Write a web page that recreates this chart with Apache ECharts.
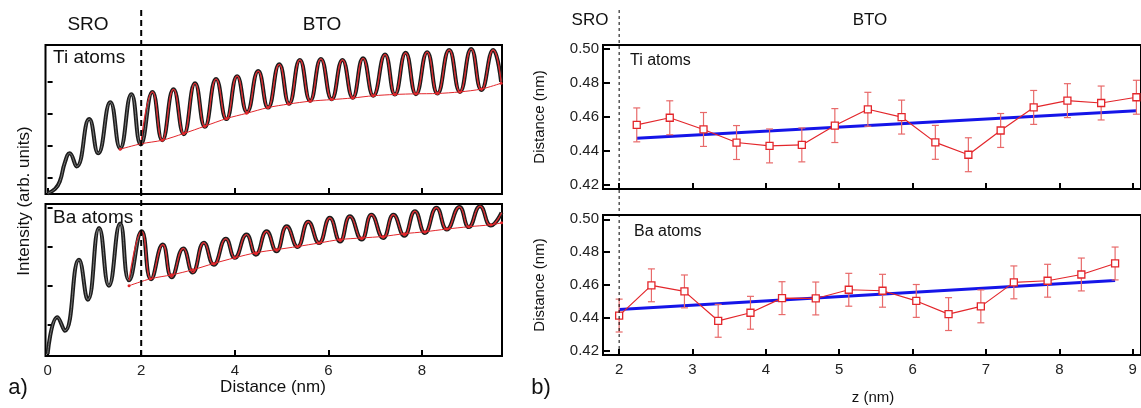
<!DOCTYPE html>
<html><head><meta charset="utf-8">
<script src="https://cdn.jsdelivr.net/npm/echarts@6/dist/echarts.min.js"></script>
<style>html,body{margin:0;padding:0;background:#fff}#c{width:1141px;height:408px}</style>
</head><body><div id="c"></div>
<script>
// ---------- panel a) : intensity profiles (x in nm, y in arb. units) ----------
const tiProfile = [[0.00,0.02],[0.16,0.16],[0.26,0.39],[0.37,0.99],[0.47,1.27],[0.62,0.86],[0.89,2.34],[1.08,1.27],[1.34,2.87],[1.55,1.43],[1.79,3.12],[1.99,1.55],[2.24,3.19],[2.45,1.68],[2.69,3.27],[2.91,1.87],[3.15,3.46],[3.36,2.10],[3.60,3.59],[3.82,2.34],[4.05,3.68],[4.26,2.56],[4.50,3.84],[4.71,2.70],[4.95,4.05],[5.16,2.82],[5.39,4.19],[5.61,2.91],[5.84,4.22],[6.07,2.96],[6.30,4.19],[6.52,3.01],[6.74,4.24],[6.96,3.07],[7.21,4.36],[7.42,3.11],[7.65,4.41],[7.87,3.12],[8.11,4.43],[8.33,3.14],[8.58,4.50],[8.81,3.19],[9.05,4.53],[9.27,3.25],[9.52,4.50],[9.69,3.51]];
const tiFit = [[1.99,1.55],[2.24,3.19],[2.45,1.68],[2.69,3.27],[2.91,1.87],[3.15,3.46],[3.36,2.10],[3.60,3.59],[3.82,2.34],[4.05,3.68],[4.26,2.56],[4.50,3.84],[4.71,2.70],[4.95,4.05],[5.16,2.82],[5.39,4.19],[5.61,2.91],[5.84,4.22],[6.07,2.96],[6.30,4.19],[6.52,3.01],[6.74,4.24],[6.96,3.07],[7.21,4.36],[7.42,3.11],[7.65,4.41],[7.87,3.12],[8.11,4.43],[8.33,3.14],[8.58,4.50],[8.81,3.19],[9.05,4.53],[9.27,3.25],[9.52,4.50],[9.69,3.51]];
const tiEnvelope = [[1.55,1.40],[2.00,1.57],[2.45,1.68],[2.91,1.89],[3.36,2.12],[3.83,2.36],[4.25,2.52],[4.71,2.70],[5.15,2.81],[5.61,2.90],[6.07,2.95],[6.52,3.00],[6.96,3.07],[7.42,3.11],[7.87,3.13],[8.33,3.14],[8.81,3.19],[9.27,3.28],[9.69,3.46]];

const baProfile = [[0.00,0.05],[0.21,1.00],[0.37,0.65],[0.67,2.48],[0.86,1.45],[1.10,3.30],[1.31,1.81],[1.55,3.41],[1.74,1.95],[2.01,3.21],[2.21,1.98],[2.46,2.87],[2.65,2.03],[2.90,2.77],[3.10,2.15],[3.34,2.92],[3.55,2.35],[3.81,3.02],[4.00,2.53],[4.25,3.13],[4.45,2.61],[4.68,3.21],[4.89,2.70],[5.11,3.34],[5.34,2.81],[5.57,3.46],[5.80,2.91],[6.03,3.56],[6.25,2.95],[6.46,3.60],[6.71,3.00],[6.92,3.64],[7.17,3.04],[7.39,3.64],[7.62,3.10],[7.85,3.73],[8.06,3.17],[8.31,3.82],[8.53,3.26],[8.80,3.84],[9.00,3.32],[9.24,3.86],[9.47,3.36],[9.70,3.69]];
const baFit = [[1.74,1.95],[2.01,3.21],[2.21,1.98],[2.46,2.87],[2.65,2.03],[2.90,2.77],[3.10,2.15],[3.34,2.92],[3.55,2.35],[3.81,3.02],[4.00,2.53],[4.25,3.13],[4.45,2.61],[4.68,3.21],[4.89,2.70],[5.11,3.34],[5.34,2.81],[5.57,3.46],[5.80,2.91],[6.03,3.56],[6.25,2.95],[6.46,3.60],[6.71,3.00],[6.92,3.64],[7.17,3.04],[7.39,3.64],[7.62,3.10],[7.85,3.73],[8.06,3.17],[8.31,3.82],[8.53,3.26],[8.80,3.84],[9.00,3.32],[9.24,3.86],[9.47,3.36],[9.70,3.69]];
const baEnvelope = [[1.74,1.81],[2.20,1.99],[2.65,2.09],[3.10,2.22],[3.54,2.38],[4.00,2.53],[4.45,2.66],[4.89,2.74],[5.34,2.82],[5.80,2.91],[6.25,3.00],[6.71,3.04],[7.17,3.08],[7.62,3.15],[8.06,3.20],[8.53,3.27],[9.00,3.33],[9.47,3.38],[9.70,3.43]];

const interfaceZ = 2;               // SRO / BTO interface (nm)
const distTicksA = [0, 2, 4, 6, 8];
const tiTicksA = [0.5, 1.5, 2.5, 3.5];
const baTicksA = [0.81, 1.81, 2.81, 3.81];

// ---------- panel b) : inter-plane distances ----------
const tiZ    = [2.24,2.69,3.15,3.60,4.05,4.49,4.94,5.39,5.85,6.31,6.76,7.20,7.65,8.11,8.57,9.05];
const tiDist = [0.4554,0.4596,0.4527,0.4450,0.4430,0.4436,0.4550,0.4646,0.4600,0.4451,0.4378,0.4521,0.4657,0.4697,0.4683,0.4717];
const tiErr  = [0.010,0.010,0.010,0.010,0.010,0.010,0.010,0.010,0.010,0.010,0.010,0.010,0.010,0.010,0.010,0.010];
const tiTrend = [[2.24,0.4475],[9.05,0.4637]];

const baZ    = [2.00,2.44,2.89,3.35,3.79,4.22,4.68,5.13,5.59,6.05,6.49,6.93,7.38,7.84,8.30,8.76];
const baDist = [0.4414,0.4598,0.4561,0.4382,0.4431,0.4520,0.4518,0.4571,0.4565,0.4503,0.4423,0.4470,0.4616,0.4626,0.4664,0.4731];
const baErr  = [0.010,0.010,0.010,0.010,0.010,0.010,0.010,0.010,0.010,0.010,0.010,0.010,0.010,0.010,0.010,0.010];
const baTrend = [[2.00,0.4451],[8.76,0.4627]];

const zTicksB = [2, 3, 4, 5, 6, 7, 8, 9];
const distTicksB = [0.42, 0.44, 0.46, 0.48, 0.50];

// ---------- chart ----------
const FONT = 'Liberation Sans, Arial, sans-serif';
const RED = '#e3262b', ERR = '#e86a6a', BLUE = '#1515e8';
const chart = echarts.init(document.getElementById('c'), null, {renderer: 'canvas'});

function xAx(grid, min, max, ticks, labels) {
  return { type: 'value', gridIndex: grid, min: min, max: max,
    axisLine: {show: false}, splitLine: {show: false},
    axisTick: {show: !!ticks, inside: true, length: 6, customValues: ticks || [], lineStyle: {color: '#000', width: 2}},
    axisLabel: {show: !!labels, customValues: ticks || [], margin: 7, color: '#222', fontSize: 15, fontFamily: FONT} };
}
function yAx(grid, min, max, ticks, labels, lenT) {
  return { type: 'value', gridIndex: grid, min: min, max: max,
    axisLine: {show: false}, splitLine: {show: false},
    axisTick: {show: !!ticks, inside: true, length: lenT || 6, customValues: ticks || [], lineStyle: {color: '#000', width: 2}},
    axisLabel: {show: !!labels, customValues: ticks || [], margin: 4, color: '#222', fontSize: 15, fontFamily: FONT,
      formatter: v => v.toFixed(2)} };
}
function errSeries(xi, yi, zs, ds, es) {
  return { type: 'custom', xAxisIndex: xi, yAxisIndex: yi, z: 3,
    data: zs.map((z, i) => [z, ds[i] - es[i], ds[i] + es[i]]),
    renderItem: function (params, api) {
      const lo = api.coord([api.value(0), api.value(1)]);
      const hi = api.coord([api.value(0), api.value(2)]);
      const w = 3.5, st = {stroke: ERR, lineWidth: 1.2};
      return {type: 'group', children: [
        {type: 'line', shape: {x1: lo[0], y1: lo[1], x2: hi[0], y2: hi[1]}, style: st},
        {type: 'line', shape: {x1: lo[0] - w, y1: lo[1], x2: lo[0] + w, y2: lo[1]}, style: st},
        {type: 'line', shape: {x1: hi[0] - w, y1: hi[1], x2: hi[0] + w, y2: hi[1]}, style: st}
      ]};
    } };
}
function txt(text, x, y, size, align, rot) {
  return { type: 'text', x: x, y: y, z: 100, rotation: rot || 0,
    style: {text: text, fontSize: size, fontFamily: FONT, fill: '#111', textAlign: align || 'center', textVerticalAlign: 'middle'} };
}

const aMin = -0.045, aMax = 9.709, bMin = 1.78, bMax = 9.113;
const border = {show: true, borderColor: '#000', borderWidth: 2, backgroundColor: 'transparent'};

const option = {
  animation: false,
  backgroundColor: '#fff',
  grid: [
    Object.assign({left: 45.5, top: 45, width: 456.5, height: 149}, border),
    Object.assign({left: 45.5, top: 204, width: 456.5, height: 152}, border),
    Object.assign({left: 603, top: 45, width: 539, height: 144}, border),
    Object.assign({left: 603, top: 215, width: 539, height: 140}, border),
    {left: 45.5, top: 8, width: 456.5, height: 348, show: false},
    {left: 603, top: 8, width: 539, height: 347, show: false}
  ],
  xAxis: [
    xAx(0, aMin, aMax, distTicksA, false),
    xAx(1, aMin, aMax, distTicksA, true),
    xAx(2, bMin, bMax, zTicksB, false),
    xAx(3, bMin, bMax, zTicksB, true),
    xAx(4, aMin, aMax, null, false),
    xAx(5, bMin, bMax, null, false)
  ],
  yAxis: [
    yAx(0, 0, 4.655, tiTicksA, false, 5),
    yAx(1, 0, 3.915, baTicksA, false, 5),
    yAx(2, 0.4176, 0.5025, distTicksB, true, 7),
    yAx(3, 0.4174, 0.5026, distTicksB, true, 7),
    yAx(4, 0, 1, null, false),
    yAx(5, 0, 1, null, false)
  ],
  series: [
    // panel a) Ti
    {type: 'line', xAxisIndex: 0, yAxisIndex: 0, data: tiProfile, smooth: 0.5, symbol: 'none', z: 2,
      lineStyle: {color: '#1c1c1c', width: 4}},
    {type: 'line', xAxisIndex: 0, yAxisIndex: 0, data: tiProfile, smooth: 0.5, symbol: 'none', z: 2,
      lineStyle: {color: '#7a7a7a', width: 1}},
    {type: 'line', xAxisIndex: 0, yAxisIndex: 0, data: tiFit, smooth: 0.5, symbol: 'none', z: 3,
      lineStyle: {color: RED, width: 1.2}},
    {type: 'line', xAxisIndex: 0, yAxisIndex: 0, data: tiEnvelope, smooth: 0.3, symbol: 'circle', symbolSize: 3, z: 3,
      itemStyle: {color: RED}, lineStyle: {color: RED, width: 1}},
    // panel a) Ba
    {type: 'line', xAxisIndex: 1, yAxisIndex: 1, data: baProfile, smooth: 0.5, symbol: 'none', z: 2,
      lineStyle: {color: '#1c1c1c', width: 4}},
    {type: 'line', xAxisIndex: 1, yAxisIndex: 1, data: baProfile, smooth: 0.5, symbol: 'none', z: 2,
      lineStyle: {color: '#7a7a7a', width: 1}},
    {type: 'line', xAxisIndex: 1, yAxisIndex: 1, data: baFit, smooth: 0.5, symbol: 'none', z: 3,
      lineStyle: {color: RED, width: 1.2}},
    {type: 'line', xAxisIndex: 1, yAxisIndex: 1, data: baEnvelope, smooth: 0.3, symbol: 'circle', symbolSize: 3, z: 3,
      itemStyle: {color: RED}, lineStyle: {color: RED, width: 1}},
    // interface dashed lines
    {type: 'line', xAxisIndex: 4, yAxisIndex: 4, data: [[interfaceZ, 0], [interfaceZ, 1]], symbol: 'none', z: 5,
      lineStyle: {color: '#000', width: 2, type: [6, 4]}},
    {type: 'line', xAxisIndex: 5, yAxisIndex: 5, data: [[interfaceZ, 0], [interfaceZ, 1]], symbol: 'none', z: 5,
      lineStyle: {color: '#000', width: 1, type: [3, 3]}},
    // panel b) Ti
    {type: 'line', xAxisIndex: 2, yAxisIndex: 2, data: tiTrend, symbol: 'none', z: 2,
      lineStyle: {color: BLUE, width: 3}},
    errSeries(2, 2, tiZ, tiDist, tiErr),
    {type: 'line', xAxisIndex: 2, yAxisIndex: 2, data: tiZ.map((z, i) => [z, tiDist[i]]), symbol: 'rect', symbolSize: 7,
      showAllSymbol: true, z: 4, itemStyle: {color: '#fff', borderColor: RED, borderWidth: 1.3},
      lineStyle: {color: RED, width: 1.2}},
    // panel b) Ba
    {type: 'line', xAxisIndex: 3, yAxisIndex: 3, data: baTrend, symbol: 'none', z: 2,
      lineStyle: {color: BLUE, width: 3}},
    errSeries(3, 3, baZ, baDist, baErr),
    {type: 'line', xAxisIndex: 3, yAxisIndex: 3, data: baZ.map((z, i) => [z, baDist[i]]), symbol: 'rect', symbolSize: 7,
      showAllSymbol: true, z: 4, itemStyle: {color: '#fff', borderColor: RED, borderWidth: 1.3},
      lineStyle: {color: RED, width: 1.2}}
  ],
  graphic: [
    txt('SRO', 88, 25, 19), txt('BTO', 322, 25, 19),
    txt('SRO', 590, 20, 17), txt('BTO', 870, 20, 17),
    txt('Ti atoms', 53, 58, 19, 'left'),
    txt('Ba atoms', 53, 218, 19, 'left'),
    txt('Ti atoms', 630, 61, 16, 'left'),
    txt('Ba atoms', 634, 232, 16, 'left'),
    txt('Intensity (arb. units)', 24, 201, 17, 'center', Math.PI / 2),
    txt('Distance (nm)', 540, 117, 15, 'center', Math.PI / 2),
    txt('Distance (nm)', 540, 285, 15, 'center', Math.PI / 2),
    txt('Distance (nm)', 273, 387, 17),
    txt('z (nm)', 873, 398, 15),
    txt('a)', 18, 388, 22),
    txt('b)', 541, 388, 22)
  ]
};
chart.setOption(option);
</script>
</body></html>
